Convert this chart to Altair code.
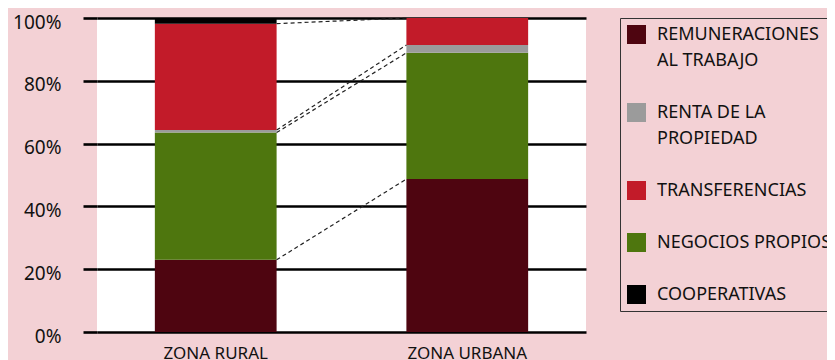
import altair as alt
import pandas as pd

# ---- data ----
zonas = ["ZONA RURAL", "ZONA URBANA"]
# legend order
categorias = ["REMUNERACIONES AL TRABAJO", "RENTA DE LA PROPIEDAD", "TRANSFERENCIAS",
              "NEGOCIOS PROPIOS", "COOPERATIVAS"]
colores = ["#4E0510", "#9B9B9B", "#C21B29", "#4E760E", "#000000"]
etiquetas_leyenda = [["REMUNERACIONES", "AL TRABAJO"], ["RENTA DE LA", "PROPIEDAD"],
                     ["TRANSFERENCIAS"], ["NEGOCIOS PROPIOS"], ["COOPERATIVAS"]]
# stacking order (bottom -> top)
orden_pila = ["REMUNERACIONES AL TRABAJO", "NEGOCIOS PROPIOS", "RENTA DE LA PROPIEDAD",
              "TRANSFERENCIAS", "COOPERATIVAS"]
rural = [23.0, 40.5, 0.8, 33.9, 1.8]
urbana = [48.7, 40.2, 2.5, 8.6, 0.0]
ticks_y = [0, 20, 40, 60, 80, 100]

# ---- tables ----
rows = []
for i, cat in enumerate(orden_pila):
    rows.append({"zona": zonas[0], "cat": cat, "orden": i, "valor": rural[i]})
    rows.append({"zona": zonas[1], "cat": cat, "orden": i, "valor": urbana[i]})
df = pd.DataFrame(rows)

cum_r, cum_u = [], []
sr = su = 0.0
for a, b in zip(rural, urbana):
    sr += a
    su += b
    cum_r.append(sr)
    cum_u.append(su)
df_lin = pd.DataFrame({
    "xa": [zonas[0]] * 4,
    "xb": [zonas[1]] * 4,
    "ya": cum_r[:4],
    "yb": cum_u[:4],
})

FONT = "Noto Sans"
xscale = alt.Scale(domain=zonas, paddingInner=0.516, paddingOuter=0.23)
yscale = alt.Scale(domain=[0, 100])

label_expr = " : ".join(
    f"datum.label == '{c}' ? {etq!r}" for c, etq in zip(categorias, etiquetas_leyenda)
) + " : datum.label"

x_axis = alt.Axis(labelAngle=0, ticks=False, domain=False, grid=False,
                  labelFont=FONT, labelFontSize=17, labelColor="#111111",
                  labelPadding=13, labelBaseline="top")
y_axis = alt.Axis(values=ticks_y, labelExpr="datum.value + '%'",
                  grid=True, gridColor="#000000", gridWidth=2.6,
                  tickSize=14, tickWidth=2.6, tickColor="#000000",
                  domain=False, labelFont=FONT, labelFontSize=19,
                  labelColor="#111111", labelPadding=22, labelOffset=4)

bars = alt.Chart(df).mark_bar().encode(
    x=alt.X("zona:N", scale=xscale, sort=zonas, title=None, axis=x_axis),
    y=alt.Y("valor:Q", scale=yscale, stack="zero", title=None, axis=y_axis),
    color=alt.Color("cat:N", scale=alt.Scale(domain=categorias, range=colores),
                    legend=alt.Legend(
                        title=None, orient="none", legendX=523, legendY=0,
                        symbolType="square", symbolSize=361, symbolStrokeWidth=0,
                        labelFont=FONT, labelFontSize=18, labelColor="#111111",
                        labelExpr=label_expr, labelOffset=11, labelLimit=400,
                        strokeColor="#333333", padding=7, rowPadding=33)),
    order=alt.Order("orden:Q", sort="ascending"),
)

lines = alt.Chart(df_lin).mark_rule(color="#222222", strokeWidth=1.2,
                                    strokeDash=[4, 3]).encode(
    x=alt.X("xa:N", scale=xscale, bandPosition=1, title=None),
    x2=alt.X2("xb", bandPosition=0),
    y=alt.Y("ya:Q", scale=yscale, title=None),
    y2=alt.Y2("yb"),
)

chart = alt.layer(bars, lines).properties(
    width=489, height=314,
    autosize=alt.AutoSizeParams(type="none"),
    padding={"left": 89, "top": 10, "right": 241, "bottom": 28},
    background="#F3D1D5",
).configure(
    view={"fill": "#FFFFFF", "strokeWidth": 0},
    style={"guide-label": {"lineHeight": 26}},
)

chart.save("out.html", embed_options={"renderer": "svg", "actions": False})
